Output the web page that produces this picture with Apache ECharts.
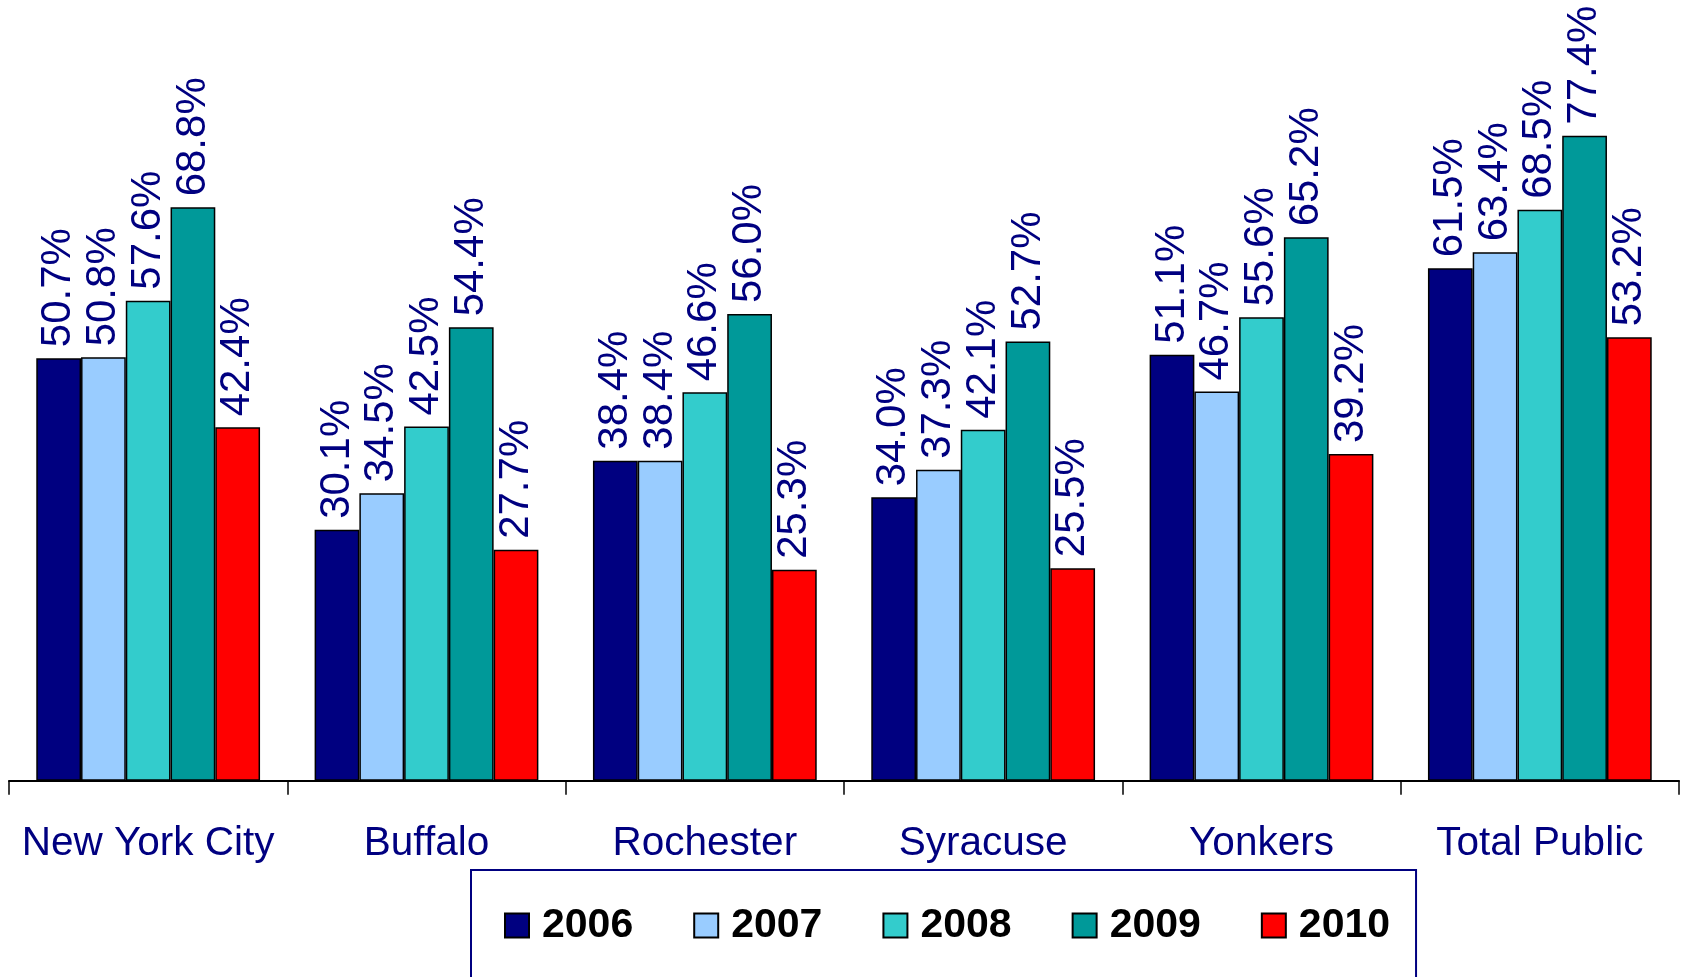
<!DOCTYPE html>
<html>
<head>
<meta charset="utf-8">
<script src="https://cdn.jsdelivr.net/npm/echarts@6/dist/echarts.min.js"></script>
<style>
html,body{margin:0;padding:0;background:#fff;}
#chart{width:1681px;height:977px;}
</style>
</head>
<body>
<div id="chart"></div>
<script>
const categories = ['New York City', 'Buffalo', 'Rochester', 'Syracuse', 'Yonkers', 'Total Public'];
const years = ['2006', '2007', '2008', '2009', '2010'];
const v2006 = [50.7, 30.1, 38.4, 34.0, 51.1, 61.5];
const v2007 = [50.8, 34.5, 38.4, 37.3, 46.7, 63.4];
const v2008 = [57.6, 42.5, 46.6, 42.1, 55.6, 68.5];
const v2009 = [68.8, 54.4, 56.0, 52.7, 65.2, 77.4];
const v2010 = [42.4, 27.7, 25.3, 25.5, 39.2, 53.2];
const colors = ['#000080', '#99CCFF', '#33CCCC', '#009999', '#FF0000'];

const allValues = [v2006, v2007, v2008, v2009, v2010];
const FONT = '"Liberation Sans", Arial, sans-serif';

const chart = echarts.init(document.getElementById('chart'), null, {renderer: 'canvas'});

const series = years.map((y, i) => ({
  name: y,
  type: 'bar',
  data: allValues[i],
  barGap: '0%',
  barCategoryGap: '19.6%',
  itemStyle: {color: colors[i], borderColor: '#000', borderWidth: 1.5},
  label: {
    show: true,
    position: 'top',
    rotate: 90,
    align: 'left',
    verticalAlign: 'middle',
    distance: 11,
    color: '#000080',
    fontSize: 42,
    fontFamily: FONT,
    formatter: p => p.value.toFixed(1) + '%'
  }
}));

chart.setOption({
  animation: false,
  backgroundColor: '#fff',
  grid: {left: 9, right: 2, top: 30.7, bottom: 196.3, containLabel: false},
  xAxis: {
    type: 'category',
    data: categories,
    axisLine: {lineStyle: {color: '#000', width: 2}},
    axisTick: {show: true, length: 14, lineStyle: {color: '#000', width: 1.5}},
    axisLabel: {color: '#000080', fontSize: 40.5, fontFamily: FONT, margin: 43, interval: 0}
  },
  yAxis: {
    type: 'value',
    min: 0,
    max: 90,
    show: false,
    splitLine: {show: false}
  },
  legend: {
    data: years,
    left: 471,
    top: 870,
    orient: 'horizontal',
    padding: [35, 26, 60, 33],
    borderColor: '#000080',
    borderWidth: 2,
    itemWidth: 24,
    itemHeight: 24,
    itemGap: 60,
    icon: 'rect',
    itemStyle: {borderColor: '#000', borderWidth: 2},
    textStyle: {color: '#000', fontSize: 41, fontWeight: 'bold', fontFamily: FONT, padding: [0, 0, 0, 8]}
  },
  series: series
});
</script>
</body>
</html>
